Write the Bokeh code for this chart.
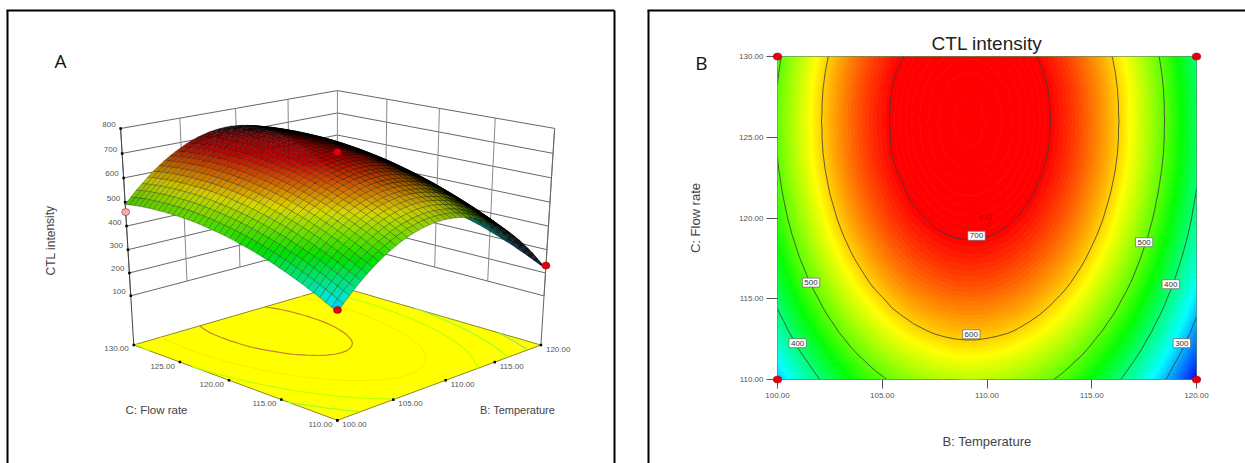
import numpy as np
from contourpy import contour_generator
from bokeh.core.properties import value
from bokeh.embed import file_html
from bokeh.layouts import row
from bokeh.models import FixedTicker, Label, NumeralTickFormatter, Range1d
from bokeh.plotting import figure
from bokeh.resources import INLINE

# ---------- data ----------
temperature = [100.0,100.5,101.0,101.5,102.0,102.5,103.0,103.5,104.0,104.5,105.0,105.5,106.0,106.5,107.0,107.5,108.0,108.5,109.0,109.5,110.0,
               110.5,111.0,111.5,112.0,112.5,113.0,113.5,114.0,114.5,115.0,115.5,116.0,116.5,117.0,117.5,118.0,118.5,119.0,119.5,120.0]
flow_rate = [110.0,110.5,111.0,111.5,112.0,112.5,113.0,113.5,114.0,114.5,115.0,115.5,116.0,116.5,117.0,117.5,118.0,118.5,119.0,119.5,120.0,
             120.5,121.0,121.5,122.0,122.5,123.0,123.5,124.0,124.5,125.0,125.5,126.0,126.5,127.0,127.5,128.0,128.5,129.0,129.5,130.0]
ctl_intensity = [
    [307,332,356,378,399,419,437,454,469,483,495,507,516,525,531,537,541,544,545,545,543,540,536,530,523,514,504,493,480,466,450,433,415,395,374,351,327,302,275,247,217],
    [319,344,368,390,411,431,449,466,481,495,507,519,528,537,543,549,553,556,557,557,555,552,548,542,535,526,516,505,492,478,462,445,427,407,386,363,339,314,287,259,229],
    [330,355,379,401,422,442,460,477,492,506,518,530,539,548,554,560,564,567,568,568,566,563,559,553,546,537,527,516,503,489,473,456,438,418,397,374,350,325,298,270,240],
    [342,367,391,413,434,454,472,489,504,518,530,542,551,560,566,572,576,579,580,580,578,575,571,565,558,549,539,528,515,501,485,468,450,430,409,386,362,337,310,282,252],
    [353,378,402,424,445,465,483,500,515,529,541,553,562,571,577,583,587,590,591,591,589,586,582,576,569,560,550,539,526,512,496,479,461,441,420,397,373,348,321,293,263],
    [363,388,412,434,455,475,493,510,525,539,551,563,572,581,587,593,597,600,601,601,599,596,592,586,579,570,560,549,536,522,506,489,471,451,430,407,383,358,331,303,273],
    [374,399,423,445,466,486,504,521,536,550,562,574,583,592,598,604,608,611,612,612,610,607,603,597,590,581,571,560,547,533,517,500,482,462,441,418,394,369,342,314,284],
    [383,408,432,454,475,495,513,530,545,559,571,583,592,601,607,613,617,620,621,621,619,616,612,606,599,590,580,569,556,542,526,509,491,471,450,427,403,378,351,323,293],
    [393,418,442,464,485,505,523,540,555,569,581,593,602,611,617,623,627,630,631,631,629,626,622,616,609,600,590,579,566,552,536,519,501,481,460,437,413,388,361,333,303],
    [402,427,451,473,494,514,532,549,564,578,590,602,611,620,626,632,636,639,640,640,638,635,631,625,618,609,599,588,575,561,545,528,510,490,469,446,422,397,370,342,312],
    [410,435,459,481,502,522,540,557,572,586,598,610,619,628,634,640,644,647,648,648,646,643,639,633,626,617,607,596,583,569,553,536,518,498,477,454,430,405,378,350,320],
    [419,444,468,490,511,531,549,566,581,595,607,619,628,637,643,649,653,656,657,657,655,652,648,642,635,626,616,605,592,578,562,545,527,507,486,463,439,414,387,359,329],
    [427,452,476,498,519,539,557,574,589,603,615,627,636,645,651,657,661,664,665,665,663,660,656,650,643,634,624,613,600,586,570,553,535,515,494,471,447,422,395,367,337],
    [434,459,483,505,526,546,564,581,596,610,622,634,643,652,658,664,668,671,672,672,670,667,663,657,650,641,631,620,607,593,577,560,542,522,501,478,454,429,402,374,344],
    [441,466,490,512,533,553,571,588,603,617,629,641,650,659,665,671,675,678,679,679,677,674,670,664,657,648,638,627,614,600,584,567,549,529,508,485,461,436,409,381,351],
    [448,473,497,519,540,560,578,595,610,624,636,648,657,666,672,678,682,685,686,686,684,681,677,671,664,655,645,634,621,607,591,574,556,536,515,492,468,443,416,388,358],
    [454,479,503,525,546,566,584,601,616,630,642,654,663,672,678,684,688,691,692,692,690,687,683,677,670,661,651,640,627,613,597,580,562,542,521,498,474,449,422,394,364],
    [460,485,509,531,552,572,590,607,622,636,648,660,669,678,684,690,694,697,698,698,696,693,689,683,676,667,657,646,633,619,603,586,568,548,527,504,480,455,428,400,370],
    [466,491,515,537,558,578,596,613,628,642,654,666,675,684,690,696,700,703,704,704,702,699,695,689,682,673,663,652,639,625,609,592,574,554,533,510,486,461,434,406,376],
    [471,496,520,542,563,583,601,618,633,647,659,671,680,689,695,701,705,708,709,709,707,704,700,694,687,678,668,657,644,630,614,597,579,559,538,515,491,466,439,411,381],
    [476,501,525,547,568,588,606,623,638,652,664,676,685,694,700,706,710,713,714,714,712,709,705,699,692,683,673,662,649,635,619,602,584,564,543,520,496,471,444,416,386],
    [480,505,529,551,572,592,610,627,642,656,668,680,689,698,704,710,714,717,718,718,716,713,709,703,696,687,677,666,653,639,623,606,588,568,547,524,500,475,448,420,390],
    [484,509,533,555,576,596,614,631,646,660,672,684,693,702,708,714,718,721,722,722,720,717,713,707,700,691,681,670,657,643,627,610,592,572,551,528,504,479,452,424,394],
    [488,513,537,559,580,600,618,635,650,664,676,688,697,706,712,718,722,725,726,726,724,721,717,711,704,695,685,674,661,647,631,614,596,576,555,532,508,483,456,428,398],
    [491,516,540,562,583,603,621,638,653,667,679,691,700,709,715,721,725,728,729,729,727,724,720,714,707,698,688,677,664,650,634,617,599,579,558,535,511,486,459,431,401],
    [494,519,543,565,586,606,624,641,656,670,682,694,703,712,718,724,728,731,732,732,730,727,723,717,710,701,691,680,667,653,637,620,602,582,561,538,514,489,462,434,404],
    [497,522,546,568,589,609,627,644,659,673,685,697,706,715,721,727,731,734,735,735,733,730,726,720,713,704,694,683,670,656,640,623,605,585,564,541,517,492,465,437,407],
    [499,524,548,570,591,611,629,646,661,675,687,699,708,717,723,729,733,736,737,737,735,732,728,722,715,706,696,685,672,658,642,625,607,587,566,543,519,494,467,439,409],
    [501,526,550,572,593,613,631,648,663,677,689,701,710,719,725,731,735,738,739,739,737,734,730,724,717,708,698,687,674,660,644,627,609,589,568,545,521,496,469,441,411],
    [502,527,551,573,594,614,632,649,664,678,690,702,711,720,726,732,736,739,740,740,738,735,731,725,718,709,699,688,675,661,645,628,610,590,569,546,522,497,470,442,412],
    [503,528,552,574,595,615,633,650,665,679,691,703,712,721,727,733,737,740,741,741,739,736,732,726,719,710,700,689,676,662,646,629,611,591,570,547,523,498,471,443,413],
    [503,528,552,574,595,615,633,650,665,679,691,703,712,721,727,733,737,740,741,741,739,736,732,726,719,710,700,689,676,662,646,629,611,591,570,547,523,498,471,443,413],
    [504,529,553,575,596,616,634,651,666,680,692,704,713,722,728,734,738,741,742,742,740,737,733,727,720,711,701,690,677,663,647,630,612,592,571,548,524,499,472,444,414],
    [503,528,552,574,595,615,633,650,665,679,691,703,712,721,727,733,737,740,741,741,739,736,732,726,719,710,700,689,676,662,646,629,611,591,570,547,523,498,471,443,413],
    [503,528,552,574,595,615,633,650,665,679,691,703,712,721,727,733,737,740,741,741,739,736,732,726,719,710,700,689,676,662,646,629,611,591,570,547,523,498,471,443,413],
    [502,527,551,573,594,614,632,649,664,678,690,702,711,720,726,732,736,739,740,740,738,735,731,725,718,709,699,688,675,661,645,628,610,590,569,546,522,497,470,442,412],
    [501,526,550,572,593,613,631,648,663,677,689,701,710,719,725,731,735,738,739,739,737,734,730,724,717,708,698,687,674,660,644,627,609,589,568,545,521,496,469,441,411],
    [499,524,548,570,591,611,629,646,661,675,687,699,708,717,723,729,733,736,737,737,735,732,728,722,715,706,696,685,672,658,642,625,607,587,566,543,519,494,467,439,409],
    [497,522,546,568,589,609,627,644,659,673,685,697,706,715,721,727,731,734,735,735,733,730,726,720,713,704,694,683,670,656,640,623,605,585,564,541,517,492,465,437,407],
    [494,519,543,565,586,606,624,641,656,670,682,694,703,712,718,724,728,731,732,732,730,727,723,717,710,701,691,680,667,653,637,620,602,582,561,538,514,489,462,434,404],
    [491,516,540,562,583,603,621,638,653,667,679,691,700,709,715,721,725,728,729,729,727,724,720,714,707,698,688,677,664,650,634,617,599,579,558,535,511,486,459,431,401],
]
design_b = [100, 120, 100, 120]
design_c = [110, 110, 130, 130]
design_z = [315, 232, 459, 522]
design_color = ["#e00010", "#e00010", "#eeb0b0", "#e00010"]
contour_levels = [300, 400, 500, 600, 700]
contour_label_b = [109.5, 109.25, 101.6, 117.5, 100.96, 118.77, 119.3]
contour_label_c = [118.9, 112.8, 116.0, 118.5, 112.25, 115.9, 112.25]
contour_label_text = ["700", "600", "500", "500", "400", "400", "300"]
z_ticks = [100, 200, 300, 400, 500, 600, 700, 800]
b_ticks = [100, 105, 110, 115, 120]
c_ticks = [110, 115, 120, 125, 130]

# ---------- colour ramp ----------
stop_z = [217, 335, 456, 578, 700]
stop_rgb = np.array([[0, 0, 255], [0, 255, 255], [0, 255, 0], [255, 255, 0], [255, 0, 0]], float)
def ramp(z):
    z = np.asarray(z, float)
    return np.stack([np.interp(z, stop_z, stop_rgb[:, i]) for i in range(3)], -1)
def hexcolor(c):
    return "#%02x%02x%02x" % tuple(int(round(v)) for v in np.clip(c, 0, 255))

B = np.array(temperature, float)
C = np.array(flow_rate, float)
Z = np.array(ctl_intensity, float)
gen = contour_generator(x=B, y=C, z=Z)

# ---------- perspective of panel A: 3x4 matrix fitted to the box corners (page pixels) ----------
Z_FLOOR = -119.0
box3d = [(0,0,0),(1,0,0),(0,1,0),(1,1,0),(0,1,1),(1,0,1),(1,1,1)]
box2d = [(336.8,420),(540.4,344.3),(133.2,344.3),(336.8,285.7),(120.2,128),(554.2,128),(336.8,90)]
A_, b_ = [], []
for (u,v,w),(sx,sy) in zip(box3d, box2d):
    A_.append([u,v,w,1,0,0,0,0,-sx*u,-sx*v,-sx*w]); b_.append(sx)
    A_.append([0,0,0,0,u,v,w,1,-sy*u,-sy*v,-sy*w]); b_.append(sy)
P = np.append(np.linalg.lstsq(np.array(A_), np.array(b_), rcond=None)[0], 1.0).reshape(3, 4)
def project(b, c, z):
    u = (np.asarray(b, float) - 100) / 20
    v = (np.asarray(c, float) - 110) / 20
    w = (np.asarray(z, float) - Z_FLOOR) / (800 - Z_FLOOR)
    h = P[0:3, 0:3] @ np.stack([u, v, w]).reshape(3, -1) + P[:, 3:4]
    return h[0] / h[2], h[1] / h[2]

FONT = value("Liberation Sans")
GREY = "#555555"

# ---------- panel B: real axes, its plot area at x 777-1196, y 56-379 of the page ----------
pb = figure(frame_width=419, frame_height=323, x_range=Range1d(100, 120), y_range=Range1d(110, 130),
            min_border_left=777, min_border_right=49, min_border_top=56, min_border_bottom=84,
            output_backend="svg", toolbar_location=None, frame_align=False,
            x_axis_label="B: Temperature", y_axis_label="C: Flow rate", title="CTL intensity")
pb.grid.visible = False
pb.outline_line_color = "#5f8f5f"
pb.title.align = "center"
pb.title.text_font = "Liberation Sans"
pb.title.text_font_size = "19px"
pb.title.text_font_style = "normal"
pb.title.text_color = "#222222"
pb.title.standoff = 5
for ax, tk in ((pb.xaxis[0], b_ticks), (pb.yaxis[0], c_ticks)):
    ax.ticker = FixedTicker(ticks=tk)
    ax.formatter = NumeralTickFormatter(format="0.00")
    ax.axis_line_color = None
    ax.major_tick_line_color = GREY
    ax.major_tick_in = 0
    ax.minor_tick_line_color = None
    ax.major_label_text_font = "Liberation Sans"
    ax.major_label_text_font_size = "8px"
    ax.major_label_text_color = GREY
    ax.axis_label_text_font = "Liberation Sans"
    ax.axis_label_text_font_size = "13px"
    ax.axis_label_text_font_style = "normal"
    ax.axis_label_text_color = "#444444"
pb.xaxis[0].major_tick_out = 9
pb.yaxis[0].major_tick_out = 11
pb.xaxis[0].major_label_standoff = 4
pb.yaxis[0].major_label_standoff = 3
pb.xaxis[0].axis_label_standoff = 33
pb.yaxis[0].axis_label_standoff = 33

# smooth colour field: many filled contour bands of the same table
band_levels = list(range(210, 750, 5))
band_mid = (np.array(band_levels[:-1]) + 2.5)
pb.contour(B, C, Z, levels=band_levels,
           fill_color=[hexcolor(c) for c in ramp(band_mid)],
           line_color=[hexcolor(c) for c in ramp(band_levels)], line_width=1)
for lev in contour_levels:
    for seg in gen.lines(lev):
        pb.line(seg[:, 0], seg[:, 1], line_color="#3a3a3a", line_width=0.8)

pb.text([109.7], [120.05], text=["5"], text_font=FONT, text_font_size="8px", text_color="#a01010",
        text_align="center", text_baseline="middle")
pb.circle([110.1], [120.05], radius=0.12, fill_color=None, line_color="#a01010", line_width=0.8)

for bx, cy, t in zip(contour_label_b, contour_label_c, contour_label_text):
    pb.add_layout(Label(x=bx, y=cy, text=t, text_font="Liberation Sans", text_font_size="8px", text_color="#333333",
                        text_align="center", text_baseline="middle", background_fill_color="white",
                        border_line_color="#666666", border_line_width=0.7, padding=2))

# ---------- transparent page-wide layer: panel A, panel frames, marks that overhang panel B ----------
pa = figure(width=1245, height=463, x_range=Range1d(0, 1245), y_range=Range1d(463, 0),
            output_backend="svg", toolbar_location=None, min_border=0, frame_align=False,
            background_fill_color=None, border_fill_color=None,
            styles={"position": "absolute", "left": "0px", "top": "0px"})
pa.axis.visible = False
pa.grid.visible = False
pa.outline_line_color = None

pa.line([7, 7], [10, 463], line_color="black", line_width=2)
pa.line([6, 614], [10, 10], line_color="black", line_width=2)
pa.line([614, 614], [10, 463], line_color="black", line_width=2)
pa.line([648, 648], [10, 463], line_color="black", line_width=2)
pa.line([647, 1245], [10, 10], line_color="black", line_width=2)

# back walls
for z in z_ticks:
    x, y = project([100, 120, 120], [130, 130, 110], [z, z, z])
    pa.line(x, y, line_color="#666666", line_width=1)
for c in c_ticks[:-1]:
    x, y = project([120, 120], [c, c], [z_ticks[0], z_ticks[-1]])
    pa.line(x, y, line_color="#888888", line_width=1)
for b in b_ticks[:-1]:
    x, y = project([b, b], [130, 130], [z_ticks[0], z_ticks[-1]])
    pa.line(x, y, line_color="#888888", line_width=1)
x, y = project([120, 120], [130, 130], [Z_FLOOR, 800])
pa.line(x, y, line_color="#888888", line_width=1)
x, y = project([100, 100], [130, 130], [Z_FLOOR, 800])
pa.line(x, y, line_color="#444444", line_width=1)
x, y = project([120, 120], [110, 110], [Z_FLOOR, 800])
pa.line(x, y, line_color="#666666", line_width=1)

# floor
x, y = project([100, 120, 120, 100], [110, 110, 130, 130], [Z_FLOOR] * 4)
pa.patch(x, y, fill_color="#ffff00", line_color="#8a8a20", line_width=1)
for lev in contour_levels:
    col = 0.4 * ramp(lev) + 0.6 * np.array([255, 255, 0])
    if lev == 700:
        col = np.array([200, 130, 40])
    for seg in gen.lines(lev):
        x, y = project(seg[:, 0], seg[:, 1], np.full(len(seg), Z_FLOOR))
        pa.line(x, y, line_color=hexcolor(col), line_width=1.2)

# surface, far quads first; quads seen at a grazing angle go dark as the wire lines crowd together
BB, CC = np.meshgrid(B, C)
SX, SY = project(BB.ravel(), CC.ravel(), Z.ravel())
SX = SX.reshape(Z.shape); SY = SY.reshape(Z.shape)
quads = []
for i in range(len(C) - 1):
    for j in range(len(B) - 1):
        quads.append((i + j, i, j))
quads.sort(reverse=True)
xs, ys, fills = [], [], []
for _, i, j in quads:
    qx = [SX[i, j], SX[i, j+1], SX[i+1, j+1], SX[i+1, j]]
    qy = [SY[i, j], SY[i, j+1], SY[i+1, j+1], SY[i+1, j]]
    ex = np.array([qx[1]-qx[0], qy[1]-qy[0]])
    ey = np.array([qx[3]-qx[0], qy[3]-qy[0]])
    area = abs(ex[0]*ey[1] - ex[1]*ey[0]) + 1e-6
    h1 = area / (np.hypot(*ex) + 1e-6) / 1.25
    h2 = area / (np.hypot(*ey) + 1e-6) / 1.25
    c1 = min(1.0, (1.0 / h1) ** 1.5)
    c2 = min(1.0, (1.0 / h2) ** 1.5)
    xs.append(qx); ys.append(qy)
    fills.append(hexcolor(ramp(Z[i:i+2, j:j+2].mean()) * (1 - c1) * (1 - c2)))
pa.patches(xs, ys, fill_color=fills, line_color="#000000", line_alpha=0.5, line_width=0.5)

# design points of panel A, then the same points on panel B's corners
x, y = project(design_b, design_c, design_z)
pa.ellipse(x, y, width=8, height=7, fill_color=design_color, line_color="#a00000", line_width=0.5)
corner_x = 777 + (np.array(design_b) - 100) / 20 * 419
corner_y = 379 - (np.array(design_c) - 110) / 20 * 323
pa.ellipse(corner_x, corner_y, width=8.5, height=7, fill_color="#e00010", line_color="#a00000", line_width=0.5)

# ticks and their labels
x, y = project([100] * len(z_ticks), [130] * len(z_ticks), z_ticks)
pa.rect(x, y, width=2.5, height=2.5, fill_color="black", line_color=None)
pa.text(x - 5, y - 4, text=[str(t) for t in z_ticks], text_font=FONT, text_font_size="8px",
        text_color=GREY, text_align="right", text_baseline="middle")
x, y = project([100] * 5, c_ticks, [Z_FLOOR] * 5)
pa.rect(x, y, width=2.5, height=2.5, fill_color="black", line_color=None)
pa.text(x - 5, y + 4, text=["%.2f" % t for t in c_ticks], text_font=FONT, text_font_size="8px",
        text_color=GREY, text_align="right", text_baseline="middle")
x, y = project(b_ticks, [110] * 5, [Z_FLOOR] * 5)
pa.rect(x, y, width=2.5, height=2.5, fill_color="black", line_color=None)
pa.text(x + 5, y + 4, text=["%.2f" % t for t in b_ticks], text_font=FONT, text_font_size="8px",
        text_color=GREY, text_align="left", text_baseline="middle")

pa.text([60, 701], [60, 62], text=["A", "B"], text_font=value("Open Sans"), text_font_size="19px",
        text_color="#111111", text_align="center", text_baseline="middle")
pa.text([50], [240], text=["CTL intensity"], angle=[np.pi / 2], text_font=FONT, text_font_size="12px",
        text_color="#444444", text_align="center", text_baseline="middle")
pa.text([156], [409], text=["C: Flow rate"], text_font=FONT, text_font_size="11.5px",
        text_color="#444444", text_align="center", text_baseline="middle")
pa.text([517], [409], text=["B: Temperature"], text_font=FONT, text_font_size="11px",
        text_color="#444444", text_align="center", text_baseline="middle")

page = row(pb, pa, spacing=0)
open("out.html", "w").write(file_html(page, INLINE))
